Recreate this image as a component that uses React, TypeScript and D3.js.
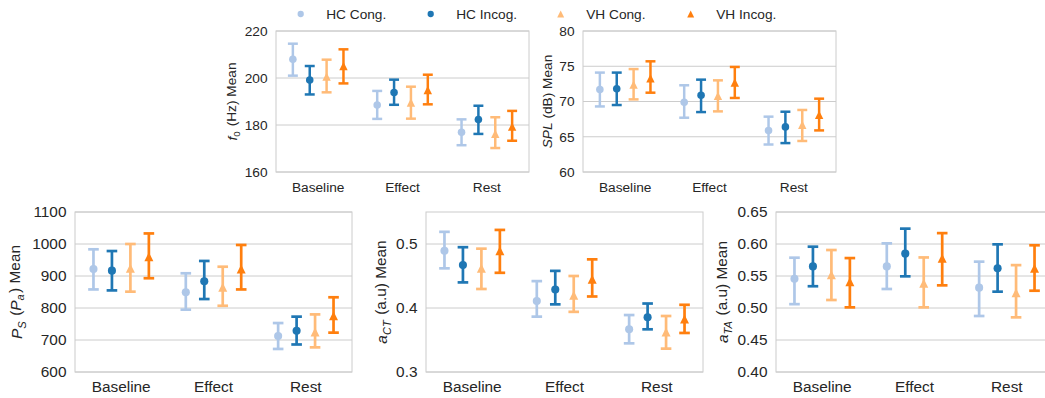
import React from "react";
import * as d3 from "d3";

const categories = ["Baseline", "Effect", "Rest"];
const seriesNames = ["HC Cong.", "HC Incog.", "VH Cong.", "VH Incog."];
const seriesColors = ["#aec7e8", "#1f77b4", "#ffbb78", "#ff7f0e"];
const seriesShapes = ["circle", "circle", "triangle", "triangle"];

// f0 (Hz)
const f0Mean = [[208, 188.5, 176.9], [199.1, 193.8, 182.3], [200.6, 189.6, 176.3], [205.1, 194.9, 179.3]];
const f0Low = [[201, 182.6, 171.4], [193, 188.6, 176.2], [193.9, 182.7, 170.2], [197.7, 188.8, 173.3]];
const f0High = [[214.6, 194.5, 182.4], [205.1, 199.3, 188.2], [207.8, 196.3, 183.3], [212.2, 201.4, 186]];
const f0Ticks = [160, 180, 200, 220];

// SPL (dB)
const splMean = [[71.7, 69.9, 65.9], [71.8, 70.9, 66.4], [72.4, 70.8, 66.7], [73.3, 72.7, 68.1]];
const splLow = [[69.3, 67.7, 63.9], [69.5, 68.5, 64.1], [70.3, 68.6, 64.4], [71.25, 70.5, 65.9]];
const splHigh = [[74.1, 72.3, 67.85], [74.1, 73.1, 68.55], [74.6, 73.0, 68.8], [75.7, 74.9, 70.4]];
const splTicks = [60, 65, 70, 75, 80];

// Ps (Pa)
const psMean = [[922, 849, 712.5], [916.7, 883.4, 729], [924, 864.6, 725], [960, 922, 776]];
const psLow = [[858, 794.8, 672], [855, 828, 686], [851, 807, 677], [893, 858, 723]];
const psHigh = [[983.4, 908.5, 753], [978, 947, 773], [1000, 929, 780], [1033, 997, 833.5]];
const psTicks = [600, 700, 800, 900, 1000, 1100];

// aCT (a.u)
const actMean = [[0.4895, 0.411, 0.3667], [0.467, 0.429, 0.3855], [0.462, 0.42, 0.3625], [0.4895, 0.445, 0.383]];
const actLow = [[0.462, 0.3865, 0.3448], [0.44, 0.4057, 0.3667], [0.4297, 0.394, 0.3365], [0.455, 0.418, 0.361]];
const actHigh = [[0.519, 0.442, 0.389], [0.495, 0.458, 0.407], [0.4927, 0.45, 0.3875], [0.522, 0.476, 0.405]];
const actTicks = [0.3, 0.4, 0.5];

// aTA (a.u)
const ataMean = [[0.5458, 0.565, 0.5318], [0.565, 0.585, 0.562], [0.552, 0.5385, 0.524], [0.541, 0.5776, 0.562]];
const ataLow = [[0.506, 0.5297, 0.4875], [0.534, 0.5495, 0.5255], [0.5125, 0.501, 0.4854], [0.501, 0.5354, 0.527]];
const ataHigh = [[0.5786, 0.601, 0.5724], [0.5958, 0.624, 0.5995], [0.5906, 0.579, 0.567], [0.578, 0.617, 0.598]];
const ataTicks = [0.4, 0.45, 0.5, 0.55, 0.6, 0.65];

const FONT = "'Liberation Sans', Arial, Helvetica, sans-serif";
const TEXT = "#262626";
const GRID = "#cccccc";

type Panel = {
  key: string;
  left: number; top: number; width: number; height: number;
  domain: [number, number];
  ticks: number[];
  fmt: string;
  fs: number;
  labelX: number;
  mean: number[][]; low: number[][]; high: number[][];
  label: React.ReactNode;
};

const sub = (t: string, italic: boolean) => [
  <tspan key={t + "s"} dy="0.28em" fontSize="72%" fontStyle={italic ? "italic" : "normal"}>{t}</tspan>,
  <tspan key={t + "r"} dy="-0.28em" fontSize="100%">{"\u200A"}</tspan>,
];

const panels: Panel[] = [
  {
    key: "f0", left: 276, top: 31, width: 253, height: 141, domain: [160, 220], ticks: f0Ticks, fmt: "d", fs: 13.7, labelX: 232,
    mean: f0Mean, low: f0Low, high: f0High,
    label: [<tspan key="f" fontStyle="italic">f</tspan>, ...sub("0", false), <tspan key="rest"> (Hz) Mean</tspan>],
  },
  {
    key: "spl", left: 583, top: 31, width: 253, height: 141, domain: [60, 80], ticks: splTicks, fmt: "d", fs: 13.7, labelX: 547,
    mean: splMean, low: splLow, high: splHigh,
    label: [<tspan key="s" fontStyle="italic">SPL</tspan>, <tspan key="rest"> (dB) Mean</tspan>],
  },
  {
    key: "ps", left: 75, top: 212, width: 277, height: 160, domain: [600, 1100], ticks: psTicks, fmt: "d", fs: 15.4, labelX: 17,
    mean: psMean, low: psLow, high: psHigh,
    label: [<tspan key="p" fontStyle="italic">P</tspan>, ...sub("S", true), <tspan key="o"> (</tspan>,
      <tspan key="p2" fontStyle="italic">P</tspan>, ...sub("a", true), <tspan key="rest">) Mean</tspan>],
  },
  {
    key: "act", left: 426, top: 212, width: 277, height: 160, domain: [0.3, 0.55], ticks: actTicks, fmt: ".1f", fs: 15.4, labelX: 382,
    mean: actMean, low: actLow, high: actHigh,
    label: [<tspan key="a" fontStyle="italic">a</tspan>, ...sub("CT", true), <tspan key="rest"> (a.u) Mean</tspan>],
  },
  {
    key: "ata", left: 776, top: 212, width: 277, height: 160, domain: [0.4, 0.65], ticks: ataTicks, fmt: ".2f", fs: 15.4, labelX: 723,
    mean: ataMean, low: ataLow, high: ataHigh,
    label: [<tspan key="a" fontStyle="italic">a</tspan>, ...sub("TA", true), <tspan key="rest"> (a.u) Mean</tspan>],
  },
];

function Marker({ shape, x, y, size, color }: { shape: string; x: number; y: number; size: number; color: string }) {
  if (shape === "circle") return <circle cx={x} cy={y} r={size * 0.9} fill={color} />;
  const p = d3.path();
  p.moveTo(x, y - size);
  p.lineTo(x - size, y + size);
  p.lineTo(x + size, y + size);
  p.closePath();
  return <path d={p.toString()} fill={color} />;
}

function PanelView({ p }: { p: Panel }) {
  const x = d3.scaleBand<string>().domain(categories).range([p.left, p.left + p.width]).padding(0);
  const y = d3.scaleLinear().domain(p.domain).range([p.top + p.height, p.top]);
  const dodge = d3.scalePoint<string>().domain(seriesNames).range([-0.3, 0.3]);
  const bw = x.bandwidth();
  const fmt = d3.format(p.fmt);
  const big = p.fs > 14;
  const cap = bw * (big ? 0.115 : 0.118);
  const sw = big ? 2.7 : 2.5;
  const msize = big ? 4.5 : 4.2;
  return (
    <g>
      {p.ticks.map((t) => (
        <line key={"g" + t} x1={p.left} x2={p.left + p.width} y1={y(t)} y2={y(t)} stroke={GRID} strokeWidth={1} />
      ))}
      <rect x={p.left} y={p.top} width={p.width} height={p.height} fill="none" stroke={GRID} strokeWidth={1} />
      {p.ticks.map((t) => (
        <text key={"t" + t} x={p.left - 8.5} y={y(t)} dy="0.35em" textAnchor="end" fontSize={p.fs} fill={TEXT}>{fmt(t)}</text>
      ))}
      {categories.map((c) => (
        <text key={c} x={(x(c) as number) + bw / 2} y={p.top + p.height + 19.7} textAnchor="middle" fontSize={p.fs} fill={TEXT}>{c}</text>
      ))}
      <text transform={`translate(${p.labelX},${p.top + p.height / 2}) rotate(-90)`} dy="0.35em" textAnchor="middle" fontSize={p.fs} fill={TEXT}>
        {p.label}
      </text>
      {seriesNames.map((s, si) =>
        categories.map((c, ci) => {
          const cx = (x(c) as number) + bw / 2 + (dodge(s) as number) * bw;
          const lo = y(p.low[si][ci]);
          const hi = y(p.high[si][ci]);
          const col = seriesColors[si];
          return (
            <g key={s + c}>
              <line x1={cx} x2={cx} y1={lo} y2={hi} stroke={col} strokeWidth={sw} />
              <line x1={cx - cap / 2} x2={cx + cap / 2} y1={lo} y2={lo} stroke={col} strokeWidth={sw} />
              <line x1={cx - cap / 2} x2={cx + cap / 2} y1={hi} y2={hi} stroke={col} strokeWidth={sw} />
              <Marker shape={seriesShapes[si]} x={cx} y={y(p.mean[si][ci])} size={msize} color={col} />
            </g>
          );
        })
      )}
    </g>
  );
}

const legendX = d3.scaleLinear().domain([0, 1]).range([300.7, 430.7]);

export default function App() {
  return (
    <svg width={1045} height={398} style={{ position: "absolute", left: 0, top: 0, background: "#fff" }} fontFamily={FONT}>
      <rect x={0} y={0} width={1045} height={398} fill="#fff" />
      {panels.map((p) => <PanelView key={p.key} p={p} />)}
      {seriesNames.map((s, i) => {
        const mx = legendX(i);
        return (
          <g key={s}>
            <Marker shape={seriesShapes[i]} x={mx} y={14} size={3.5} color={seriesColors[i]} />
            <text x={mx + 25.5} y={14} dy="0.35em" fontSize={13.7} fill={TEXT}>{s}</text>
          </g>
        );
      })}
    </svg>
  );
}
